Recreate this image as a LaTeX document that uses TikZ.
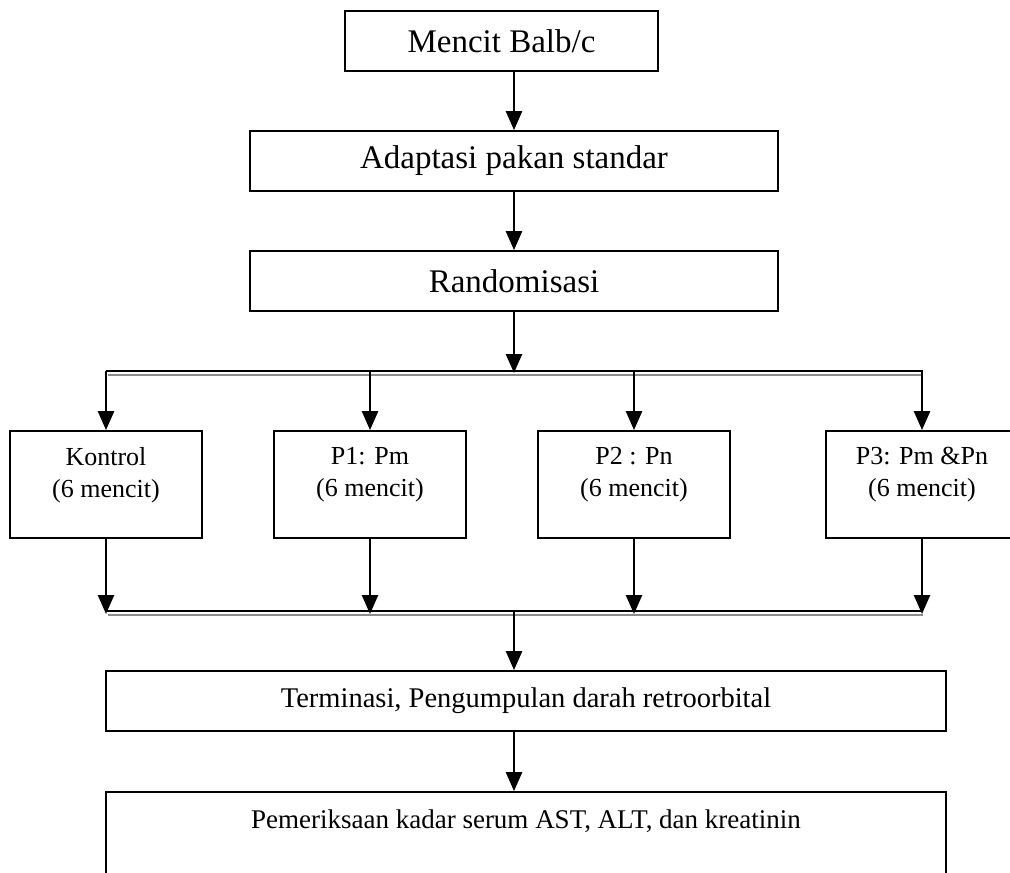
\documentclass[tikz,border=0pt]{standalone}
\usepackage{fontspec}
\setmainfont{Liberation Serif}
\usetikzlibrary{arrows.meta}
\begin{document}
\begin{tikzpicture}[x=1pt,y=-1pt,
  box/.style={draw, line width=1.8pt, inner sep=0pt, minimum height=60pt},
  rowbox/.style={draw, line width=1.8pt, inner sep=0pt, minimum width=192pt, minimum height=107pt},
  arr/.style={line width=2.6pt, -{Triangle[length=19pt,width=16pt]}},
  bus/.style={line width=1.6pt},
  busg/.style={line width=1.2pt, black!45},
  big/.style={font=\fontsize{33}{39}\selectfont},
  sm/.style={font=\fontsize{26}{32}\selectfont, align=center},
  mid/.style={font=\fontsize{28.5}{34}\selectfont}]
\useasboundingbox (0,0) rectangle (1010,873);

% top boxes
\node[box, big, minimum width=313pt] (b1) at (501.5,41) {Mencit Balb/c};
\node[box, big, minimum width=528pt] (b2) at (514,161) {Adaptasi pakan standar};
\node[box, big, minimum width=528pt] (b3) at (514,281) {Randomisasi};

\draw[arr] (b1.south -| b2.north) -- (b2.north);
\draw[arr] (b2.south) -- (b3.north);

% upper bus
\coordinate (ta) at (106,371);
\coordinate (tb) at (923,371);
\coordinate (ga) at (108,375);
\coordinate (gb) at (923,375);
\coordinate (tc) at (514,373);
\draw[bus] (ta) -- (tb);
\draw[busg] (ga) -- (gb);
\draw[arr] (b3.south) -- (tc);

% group boxes
\node[rowbox] (k)  at (106,484.5) {};
\node[rowbox] (p1) at (370,484.5) {};
\node[rowbox] (p2) at (634,484.5) {};
\node[rowbox] (p3) at (922,484.5) {};
\node[sm] (kt)  at (106,475) {Kontrol\\(6 mencit)};
\node[sm] (p1t) at (370,475) {P1: Pm\\(6 mencit)};
\node[sm] (p2t) at (634,475) {P2 : Pn\\(6 mencit)};
\node[sm] (p3t) at (922,475) {P3: Pm \&Pn\\(6 mencit)};

\foreach \n in {k,p1,p2,p3}{
  \draw[arr] (\n.north |- ta) -- (\n.north);
}

% lower bus
\coordinate (la) at (106,611);
\coordinate (lb) at (923,611);
\coordinate (lga) at (108,615);
\coordinate (lgb) at (923,615);
\coordinate (lt) at (0,614);
\coordinate (lm) at (514,611);
\draw[bus] (la) -- (lb);
\draw[busg] (lga) -- (lgb);
\foreach \n in {k,p1,p2,p3}{
  \draw[arr] (\n.south) -- (\n.south |- lt);
}

% terminasi and final
\node[box, mid, minimum width=840pt] (t) at (526,701) {Terminasi, Pengumpulan darah retroorbital};
\node[draw, line width=1.8pt, inner sep=0pt, minimum width=840pt, minimum height=120pt] (e) at (526,852) {};
\node[font=\fontsize{27}{32}\selectfont] (et) at (526,821) {Pemeriksaan kadar serum AST, ALT, dan kreatinin};

\draw[arr] (lm) -- (lm |- t.north);
\draw[arr] (lm |- t.south) -- (lm |- e.north);
\end{tikzpicture}
\end{document}
